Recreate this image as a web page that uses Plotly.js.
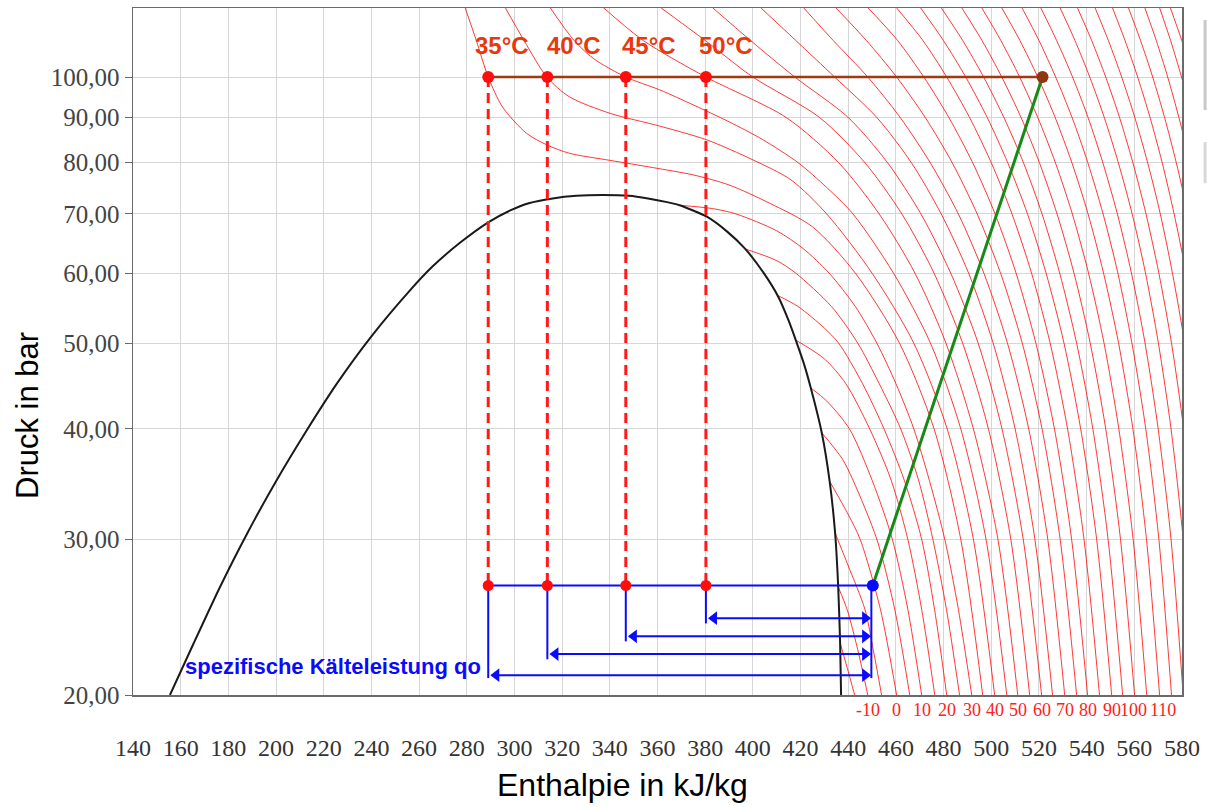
<!DOCTYPE html>
<html>
<head>
<meta charset="utf-8">
<script src="https://cdn.plot.ly/plotly-3.0.1.min.js"></script>
<style>
html,body{margin:0;padding:0;background:#fff;}
#chart{width:1207px;height:807px;}
</style>
</head>
<body>
<div id="chart"></div>
<script>
// ---------- DATA ----------
// Pressure grid (bar) for the hot superheated isotherms
const pGrid = [20, 30, 40, 50, 60, 70, 80, 90, 100, 110, 120];

// Isotherms 50..160 °C : enthalpy (kJ/kg) at pGrid
const hotT = [50,55,60,65,70,75,80,85,90,95,100,105,110,115,120,125,130,135,140,145,150,155,160];
const hotH = [
  [511.1,502.8,492.5,481.0,468.0,453.0,436.0,414.0,380.3,354.0,337.0],
  [516.1,508.2,498.8,488.0,476.0,462.5,447.0,428.0,400.0,380.0,361.0],
  [521.1,513.4,504.5,494.5,483.0,470.5,456.5,440.0,417.6,399.0,382.8],
  [525.7,518.3,510.0,500.8,490.5,479.0,466.5,452.0,434.3,418.0,403.0],
  [530.8,523.7,515.7,506.8,496.9,486.2,474.4,461.8,448.2,433.7,421.0],
  [535.8,528.9,521.3,513.0,503.9,494.1,483.6,472.3,460.3,447.6,434.5],
  [540.4,533.7,526.5,518.7,510.4,501.6,492.2,482.2,471.7,460.7,448.0],
  [545.4,538.9,532.0,524.7,516.9,508.7,500.0,490.9,481.3,471.3,460.0],
  [550.5,544.2,537.5,530.5,523.0,515.2,506.9,498.3,489.3,479.9,470.1],
  [555.1,549.0,542.6,535.8,528.7,521.3,513.5,505.3,496.8,488.0,478.8],
  [560.1,554.2,548.0,541.5,534.7,527.6,520.2,512.5,504.4,496.1,487.4],
  [565.2,559.5,553.5,547.3,540.8,534.0,526.9,519.5,511.9,504.0,495.8],
  [570.6,565.1,559.4,553.4,547.1,540.6,533.8,526.8,519.5,512.0,504.2],
  [575.6,570.3,564.8,559.0,553.1,546.9,540.5,533.9,527.0,520.0,512.7],
  [580.5,575.4,570.0,564.5,558.8,552.9,546.8,540.6,534.1,527.4,520.6],
  [585.5,580.5,575.4,570.1,564.7,559.1,553.3,547.4,541.3,535.1,528.7],
  [590.5,585.7,580.7,575.6,570.3,564.9,559.4,553.8,548.0,542.1,536.0],
  [595.5,590.8,586.0,581.1,576.0,570.9,565.6,560.2,554.7,549.1,543.4],
  [600.5,595.9,591.3,586.5,581.7,576.7,571.7,566.6,561.4,556.1,550.7],
  [605.5,601.1,596.5,591.9,587.2,582.5,577.6,572.7,567.7,562.6,557.4],
  [610.5,606.1,601.7,597.2,592.7,588.1,583.4,578.7,574.0,569.2,564.3],
  [615.5,611.2,606.8,602.4,598.0,593.5,589.0,584.4,579.8,575.2,570.5],
  [620.5,616.3,612.0,607.6,603.1,598.6,594.0,589.4,584.7,579.9,575.0]
];

// Isotherms -15..45 °C : own pressure lists (bar) and enthalpies (kJ/kg)
const coolT = [-15,-10,-5,0,5,10,15,20,25,30,35,40,45];
const coolP = [
  [22.9,21.5,20],
  [26.5,25,22.5,20],
  [30.5,28,25,22.5,20],
  [34.9,32,30,25,20],
  [39.6,37,35,30,25,20],
  [44.5,43,40,35,30,25,20],
  [50.4,48,45,40,35,30,25,20],
  [56.6,55,52,50,45,40,35,30,25,20],
  [63.9,62,60,55,50,45,40,35,30,25,20],
  [71.6,71,70,67,64,60,55,50,45,40,35,30,25,20],
  [120,110,100,92.5,86.4,83.8,82,80.5,79,77.5,75.5,72,67.7,60,50,40,30,20],
  [120,110,100,95,91,88,84.9,80.6,76.5,70,60,50,40,30,20],
  [120,110,105,100,96.7,93,89,85,80,75,70,60,50,40,30,20]
];
const coolH = [
  [436.6,439.5,442.7],
  [435.8,439.5,444.0,448.2],
  [434.5,440.0,447.0,450.5,454.0],
  [432.2,440.0,445.0,453.5,460.3],
  [428.9,437.5,442.0,452.0,459.5,465.8],
  [424.3,431.0,440.5,450.0,458.5,465.0,470.8],
  [418.0,430.0,439.0,449.0,458.0,465.0,470.8,476.3],
  [410.5,419.0,430.0,436.0,446.0,455.0,463.5,470.8,476.2,481.3],
  [396.8,410.0,418.0,433.0,444.0,453.0,462.0,469.5,475.5,481.2,486.7],
  [369.3,383.0,393.0,410.0,421.0,432.0,443.0,452.0,460.0,467.5,474.0,480.5,486.2,491.8],
  [279.2,284.0,289.0,295.0,305.0,313.6,323.0,340.0,358.0,375.0,390.0,407.0,425.0,443.0,461.5,476.0,487.2,496.4],
  [296.0,304.0,313.6,323.0,340.0,361.0,380.7,400.0,416.0,431.0,450.0,467.5,481.5,492.5,501.4],
  [314.8,325.0,333.0,346.7,361.0,375.0,390.0,404.0,419.0,431.0,442.0,459.0,474.5,487.2,497.8,506.5]
];

// Saturation dome (bar, kJ/kg)
const satP = [20,22.9,26.5,30.5,34.9,39.7,45,50.9,57.3,61,64.9,68.5,70.6,72,72.9,73.4,73.55,73.4,72.9,72.2,71.6,69.5,66.9,64.0,60.0,56.4,52.95,50.4,47.5,44.5,39.6,34.9,30.5,26.5,22.9,20];
const satH = [155.5,165.5,176.5,188,200,212.5,225.5,240,256,265.5,277,289,298,306,316,326,337,348,356,364,369.3,380.7,389.1,396.6,404.6,410.7,415.1,418.0,421.3,424.3,428.9,432.2,434.5,435.8,436.6,437.0];

// Cycle
const cycleLabels = ['35°C','40°C','45°C','50°C'];
const cycleH = [289.0, 313.8, 346.7, 380.3];
const pHigh = 100;
const pEvap = 26.6;
const hEvapOut = 450.3;
const hDischarge = 521.5;
const arrowP = [21.06, 22.25, 23.3, 24.43];
const vertEndP = [20.9, 21.95, 23.0, 24.1];
const arrowRightH = 449.7;

// Axes
const xTicks = [140,160,180,200,220,240,260,280,300,320,340,360,380,400,420,440,460,480,500,520,540,560,580];
const yTicks = [20,30,40,50,60,70,80,90,100];
const yTickText = ['20,00','30,00','40,00','50,00','60,00','70,00','80,00','90,00','100,00'];
const isoLabelT = [-10,0,10,20,30,40,50,60,70,80,90,100,110];

// ---------- TRACES ----------
const traces = [];
const isoLine = {color:'rgba(255,0,0,0.78)', width:1, shape:'spline', smoothing:0.8};
coolT.forEach((t,i)=>{
  traces.push({type:'scatter', mode:'lines', x:coolH[i], y:coolP[i], line:isoLine, hoverinfo:'skip', name:t+'°C'});
});
hotT.forEach((t,i)=>{
  traces.push({type:'scatter', mode:'lines', x:hotH[i], y:pGrid, line:isoLine, hoverinfo:'skip', name:t+'°C'});
});
// dome
traces.push({type:'scatter', mode:'lines', x:satH, y:satP, line:{color:'#1a1a1a', width:2, shape:'spline', smoothing:0.6}, hoverinfo:'skip'});
// dashed red verticals
cycleH.forEach(h=>{
  traces.push({type:'scatter', mode:'lines', x:[h,h], y:[pHigh,pEvap], line:{color:'#ff1a1a', width:3, dash:'10px,6px'}, hoverinfo:'skip'});
});
// brown high pressure line
traces.push({type:'scatter', mode:'lines', x:[cycleH[0], hDischarge], y:[pHigh,pHigh], line:{color:'#9c3a12', width:2.5}, hoverinfo:'skip'});
// green compression
traces.push({type:'scatter', mode:'lines', x:[hEvapOut, hDischarge], y:[pEvap,pHigh], line:{color:'#168a16', width:3}, hoverinfo:'skip'});
// blue evaporation line
traces.push({type:'scatter', mode:'lines', x:[cycleH[0], hEvapOut], y:[pEvap,pEvap], line:{color:'#0a0aff', width:2.2}, hoverinfo:'skip'});
// blue verticals
cycleH.forEach((h,i)=>{
  traces.push({type:'scatter', mode:'lines', x:[h,h], y:[pEvap, vertEndP[i]], line:{color:'#0a0aff', width:2}, hoverinfo:'skip'});
});
traces.push({type:'scatter', mode:'lines', x:[arrowRightH, arrowRightH], y:[pEvap, vertEndP[0]], line:{color:'#0a0aff', width:2}, hoverinfo:'skip'});
// arrows
cycleH.forEach((h,i)=>{
  traces.push({type:'scatter', mode:'lines', x:[h+1.5, arrowRightH-1.5], y:[arrowP[i],arrowP[i]], line:{color:'#0a0aff', width:2}, hoverinfo:'skip'});
});
traces.push({type:'scatter', mode:'markers', x:cycleH.map(h=>h+3.4), y:arrowP, marker:{symbol:'triangle-left', size:12, color:'#0a0aff'}, hoverinfo:'skip'});
traces.push({type:'scatter', mode:'markers', x:arrowP.map(()=>arrowRightH-2.6), y:arrowP, marker:{symbol:'triangle-right', size:12, color:'#0a0aff'}, hoverinfo:'skip'});
// dots
traces.push({type:'scatter', mode:'markers', x:cycleH, y:cycleH.map(()=>pHigh), marker:{size:12, color:'#ff0d0d'}, hoverinfo:'skip'});
traces.push({type:'scatter', mode:'markers', x:cycleH, y:cycleH.map(()=>pEvap), marker:{size:11, color:'#ff0d0d'}, hoverinfo:'skip'});
traces.push({type:'scatter', mode:'markers', x:[hDischarge], y:[pHigh], marker:{size:12, color:'#8f3510'}, hoverinfo:'skip'});
traces.push({type:'scatter', mode:'markers', x:[hEvapOut], y:[pEvap], marker:{size:12, color:'#0a0aff'}, hoverinfo:'skip'});

// ---------- ANNOTATIONS ----------
const labelShift = [14, 27, 23, 20];
const annotations = [];
cycleH.forEach((h,i)=>{
  annotations.push({x:h, xref:'x', y:0.946, yref:'paper', text:'<b>'+cycleLabels[i]+'</b>', showarrow:false,
    xanchor:'center', yanchor:'middle', xshift:labelShift[i], font:{family:'Liberation Sans, Arial', size:24, color:'#e8380d'}});
});
isoLabelT.forEach(t=>{
  const i = coolT.indexOf(t);
  let h;
  if (i >= 0) { h = coolH[i][coolH[i].length-1]; }
  else { const j = hotT.indexOf(t); h = hotH[j][0]; }
  annotations.push({x:h, xref:'x', y:-0.0225, yref:'paper', text:String(t), showarrow:false,
    xanchor:'center', yanchor:'middle', xshift:(t===110?3:(t===100?-1:0)),
    font:{family:'Liberation Serif, Times New Roman', size:18, color:'#ff2020'}});
});
annotations.push({x:0.1907, xref:'paper', y:0.0408, yref:'paper', text:'<b>spezifische Kälteleistung qo</b>', showarrow:false,
  xanchor:'center', yanchor:'middle', font:{family:'Liberation Sans, Arial', size:22, color:'#0a0aff'}});
annotations.push({x:-0.1001, xref:'paper', y:0.4076, yref:'paper', text:'Druck in bar', textangle:-90, showarrow:false,
  xanchor:'center', yanchor:'middle', font:{family:'Liberation Sans, Arial', size:31, color:'#000'}});
annotations.push({x:0.467, xref:'paper', y:-0.131, yref:'paper', text:'Enthalpie in kJ/kg', showarrow:false,
  xanchor:'center', yanchor:'middle', font:{family:'Liberation Sans, Arial', size:32, color:'#000'}});

// ---------- LAYOUT ----------
const layout = {
  width:1207, height:807,
  margin:{l:133, r:25, t:8, b:112},
  paper_bgcolor:'#ffffff', plot_bgcolor:'#ffffff',
  showlegend:false,
  xaxis:{
    range:[140,580], tickvals:xTicks, ticks:'', showgrid:true, gridcolor:'#d6d6d6', gridwidth:1,
    zeroline:false, showline:true, linecolor:'#6a6a6a', linewidth:1.5, mirror:true,
    tickfont:{family:'Liberation Serif, Times New Roman', size:24, color:'#333'},
    ticklabelstandoff:31
  },
  yaxis:{
    type:'log', range:[Math.log10(20), Math.log10(119.7)], tickvals:yTicks, ticktext:yTickText,
    ticks:'outside', ticklen:7, tickcolor:'#6a6a6a', showgrid:true, gridcolor:'#d6d6d6', gridwidth:1,
    zeroline:false, showline:true, linecolor:'#6a6a6a', linewidth:1.5, mirror:true,
    tickfont:{family:'Liberation Serif, Times New Roman', size:25, color:'#444'}
  },
  shapes:[
    {type:'rect', xref:'paper', yref:'paper', x0:0.0015, x1:0.139, y0:0.946, y1:0.998, fillcolor:'#ffffff', line:{width:0}, layer:'below'},
    {type:'line', xref:'paper', yref:'paper', x0:1.022, x1:1.022, y0:0.9825, y1:0.8515, line:{color:'#c8c8c8', width:3}},
    {type:'line', xref:'paper', yref:'paper', x0:1.022, x1:1.022, y0:0.805, y1:0.745, line:{color:'#d8d8d8', width:3}}
  ],
  annotations:annotations
};

Plotly.newPlot('chart', traces, layout, {displayModeBar:false, staticPlot:true});
</script>
</body>
</html>
